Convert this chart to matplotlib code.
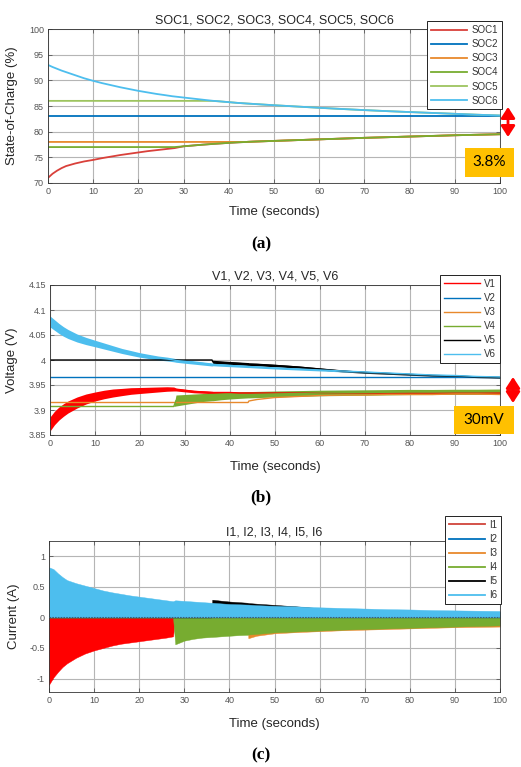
import matplotlib
matplotlib.use('Agg')
import matplotlib.pyplot as plt
import numpy as np
from matplotlib.patches import Rectangle, FancyArrowPatch
from matplotlib.lines import Line2D

plt.rcParams['font.family'] = ['Liberation Sans', 'DejaVu Sans']

# ---------------- data ----------------
time_s = [0, 1, 2, 3, 4, 6, 8, 10, 12, 14, 16, 18, 20, 22, 24, 26, 27.5, 28, 30, 32,
          34, 36, 36.2, 38, 40, 42, 44, 44.2, 46, 50, 55, 60, 65, 70, 75, 80, 85, 90, 95, 100]

# State of charge (%)
soc1 = [71.0, 71.8, 72.4, 72.9, 73.3, 73.8, 74.2, 74.5, 74.85, 75.15, 75.45, 75.7, 75.95, 76.2,
        76.4, 76.6, 76.75, 76.8, 77.15, 77.3, 77.45, 77.58, 77.6, 77.7, 77.82, 77.92, 78.0, 78.02,
        78.08, 78.2, 78.35, 78.5, 78.65, 78.8, 78.92, 79.05, 79.17, 79.3, 79.4, 79.5]
soc2 = [83.0] * 40
soc3 = [78.0] * 27 + [78.02, 78.08, 78.2, 78.35, 78.5, 78.65, 78.8, 78.92, 79.05, 79.17, 79.3,
                      79.4, 79.5]
soc4 = [77.0] * 18 + [77.15, 77.3, 77.45, 77.58, 77.6, 77.7, 77.82, 77.92, 78.0, 78.02, 78.08,
                      78.2, 78.35, 78.5, 78.65, 78.8, 78.92, 79.05, 79.17, 79.3, 79.4, 79.5]
soc6 = [93.0, 92.6, 92.25, 91.9, 91.6, 91.0, 90.4, 89.9, 89.45, 89.05, 88.65, 88.3, 87.95, 87.65,
        87.35, 87.1, 86.9, 86.85, 86.65, 86.45, 86.25, 86.05, 86.03, 85.9, 85.75, 85.6, 85.48,
        85.47, 85.37, 85.15, 84.9, 84.65, 84.42, 84.2, 84.0, 83.82, 83.65, 83.48, 83.3, 83.15]
soc5 = [86.0] * 23 + soc6[23:]

# Voltage (V): centre and half-width of the oscillation band
v1 = [3.872, 3.884, 3.893, 3.900, 3.906, 3.915, 3.922, 3.927, 3.931, 3.934, 3.936, 3.938, 3.939,
      3.940, 3.941, 3.942, 3.942, 3.941, 3.939, 3.937, 3.936, 3.935, 3.935, 3.935, 3.935, 3.934,
      3.934, 3.934, 3.934, 3.934, 3.934, 3.934, 3.934, 3.934, 3.934, 3.934, 3.934, 3.934, 3.934, 3.934]
v1_hw = [0.014, 0.0135, 0.013, 0.0125, 0.012, 0.011, 0.010, 0.009, 0.0085, 0.008, 0.0072, 0.0066,
         0.006, 0.0055, 0.005, 0.0045, 0.004, 0.003, 0.0028, 0.0026, 0.0025, 0.0024] + [0.002] * 18
v2 = [3.966] * 40
v3 = [3.915] * 27 + [3.918, 3.921, 3.925, 3.927, 3.929, 3.930, 3.930, 3.931, 3.931, 3.931, 3.932,
                     3.932, 3.931]
v4 = [3.907] * 17 + [3.919, 3.921, 3.923, 3.925, 3.926, 3.926, 3.9275, 3.9287, 3.9297, 3.9305,
                     3.9305, 3.931, 3.932, 3.933, 3.934, 3.9345, 3.935, 3.9355, 3.936, 3.936,
                     3.9365, 3.9365, 3.937]
v4_hw = [0.0] * 17 + [0.011, 0.010, 0.009, 0.008, 0.0075, 0.0075, 0.007, 0.0067, 0.0065, 0.0063,
                      0.0063, 0.0062, 0.006, 0.0058, 0.0056, 0.0055, 0.0054, 0.0053, 0.0052,
                      0.0051, 0.005, 0.005, 0.005]
v5 = [4.0] * 22 + [3.996, 3.995, 3.994, 3.993, 3.992, 3.9915, 3.991, 3.989, 3.986, 3.982, 3.978,
                   3.975, 3.973, 3.971, 3.969, 3.968, 3.966, 3.965]
v5_hw = [0.0] * 22 + [0.0035, 0.0033, 0.0031, 0.003, 0.0029, 0.0028, 0.0027, 0.0025, 0.0023,
                      0.0021, 0.0018, 0.0016, 0.0015, 0.0015, 0.0014, 0.0014, 0.0013, 0.0013]
v6 = [4.077, 4.070, 4.063, 4.057, 4.052, 4.044, 4.038, 4.033, 4.028, 4.023, 4.018, 4.014, 4.010,
      4.007, 4.004, 4.002, 4.000, 3.999, 3.997, 3.995, 3.993, 3.991, 3.991, 3.990, 3.989, 3.988,
      3.987, 3.987, 3.986, 3.984, 3.982, 3.980, 3.978, 3.976, 3.974, 3.972, 3.970, 3.969, 3.967, 3.966]
v6_hw = [0.011, 0.0105, 0.010, 0.0095, 0.009, 0.008, 0.0072, 0.0065, 0.006, 0.0055, 0.005, 0.0048,
         0.0045, 0.0042, 0.004, 0.0038, 0.0036, 0.0035, 0.0035, 0.0033, 0.0032, 0.003, 0.0025,
         0.0025, 0.0024, 0.0023, 0.0022, 0.0022, 0.0021, 0.002, 0.002, 0.0019, 0.0018, 0.0018,
         0.0017, 0.0017, 0.0016, 0.0016, 0.0015, 0.0015]

# Current (A): envelope of the oscillating current
i1 = [-1.10, -0.98, -0.89, -0.81, -0.75, -0.66, -0.59, -0.54, -0.50, -0.46, -0.43, -0.41, -0.39,
      -0.37, -0.35, -0.33, -0.31] + [0.0] * 23
i2 = [0.0] * 40
i3 = [0.0] * 27 + [-0.34, -0.30, -0.26, -0.24, -0.225, -0.21, -0.20, -0.19, -0.18, -0.17, -0.16,
                   -0.155, -0.15]
i4 = [0.0] * 17 + [-0.44, -0.38, -0.35, -0.33, -0.32, -0.32, -0.31, -0.30, -0.29, -0.285, -0.28,
                   -0.27, -0.245, -0.23, -0.215, -0.20, -0.19, -0.18, -0.17, -0.16, -0.15, -0.14,
                   -0.13]
i5 = [0.0] * 22 + [0.29, 0.275, 0.26, 0.25, 0.24, 0.235, 0.225, 0.205, 0.18, 0.15, 0.14, 0.13,
                   0.12, 0.11, 0.10, 0.10, 0.09, 0.09]
i6 = [0.82, 0.79, 0.72, 0.66, 0.61, 0.56, 0.52, 0.48, 0.44, 0.41, 0.385, 0.36, 0.34, 0.32, 0.30,
      0.28, 0.265, 0.28, 0.27, 0.26, 0.25, 0.24, 0.24, 0.23, 0.22, 0.215, 0.21, 0.21, 0.20, 0.19,
      0.18, 0.165, 0.155, 0.145, 0.135, 0.13, 0.12, 0.115, 0.11, 0.105]

x_ticks = [0, 10, 20, 30, 40, 50, 60, 70, 80, 90, 100]
soc_ticks = [70, 75, 80, 85, 90, 95, 100]
v_ticks = [3.85, 3.9, 3.95, 4.0, 4.05, 4.1, 4.15]
v_ticklabels = ['3.85', '3.9', '3.95', '4', '4.05', '4.1', '4.15']
i_ticks = [-1, -0.5, 0, 0.5, 1]
i_ticklabels = ['-1', '-0.5', '0', '0.5', '1']

soc_labels = ['SOC1', 'SOC2', 'SOC3', 'SOC4', 'SOC5', 'SOC6']
v_labels = ['V1', 'V2', 'V3', 'V4', 'V5', 'V6']
i_labels = ['I1', 'I2', 'I3', 'I4', 'I5', 'I6']

# ---------------- styling ----------------
RED = '#FF0000'
SOC_RED = '#D9403A'
LEG_RED = '#D0443A'
BLUE = '#0072BD'
ORANGE = '#E8892C'
GREEN = '#77AC30'
LGREEN = '#9DC45F'
LBLUE = '#4DBEEE'
BLACK = '#000000'
TICK_C = '#555555'
GRID_C = '#b5b5b5'

t = np.array(time_s)

fig = plt.figure(figsize=(5.21, 7.67), dpi=100)


def style_axes(ax, yticks, yticklabels, ylim, ylabel, ylab_x, xlab_y, title):
    ax.set_xlim(0, 100)
    ax.set_ylim(*ylim)
    ax.set_xticks(x_ticks)
    ax.set_yticks(yticks)
    ax.set_yticklabels(yticklabels)
    ax.tick_params(direction='in', length=3, width=0.5, colors='#444444', labelsize=6.5,
                   labelcolor=TICK_C, top=True, right=True, pad=3)
    ax.grid(True, color=GRID_C, lw=0.8)
    ax.set_axisbelow(True)
    for s in ax.spines.values():
        s.set_color('#333333')
        s.set_linewidth(0.6)
    ax.set_xlabel('Time (seconds)', fontsize=9.5, color='#262626')
    ax.xaxis.set_label_coords(0.5, xlab_y)
    ax.set_ylabel(ylabel, fontsize=9.5, color='#262626')
    ax.yaxis.set_label_coords(ylab_x, 0.5)
    ax.set_title(title, fontsize=9, color='#262626', pad=4)


def add_legend(ax, handles, labels, anchor, fs=7.0):
    leg = ax.legend(handles, labels, loc='upper right', bbox_to_anchor=anchor, fontsize=fs,
                    frameon=True, fancybox=False, framealpha=1, edgecolor='#222222',
                    handlelength=3.7, handletextpad=0.45, labelspacing=0.42,
                    borderpad=0.4, borderaxespad=0.0)
    leg.get_frame().set_linewidth(0.7)
    for txt in leg.get_texts():
        txt.set_color('#333333')
    leg.set_zorder(20)
    return leg


# ---------------- (a) SOC ----------------
ax1 = fig.add_axes([48 / 521, 1 - 183 / 767, 452 / 521, 154 / 767])
h = []
for vals, col in [(soc1, SOC_RED), (soc2, BLUE), (soc3, ORANGE),
                  (soc4, GREEN), (soc5, LGREEN), (soc6, LBLUE)]:
    ln, = ax1.plot(t, vals, color=col, lw=1.3)
    h.append(ln)
style_axes(ax1, soc_ticks, [str(v) for v in soc_ticks], (70, 100), 'State-of-Charge (%)',
           -0.066, -0.15, 'SOC1, SOC2, SOC3, SOC4, SOC5, SOC6')
add_legend(ax1, h, soc_labels, (1.004, 1.05))

# ---------------- (b) Voltage ----------------
ax2 = fig.add_axes([50 / 521, 1 - 435 / 767, 450 / 521, 150 / 767])
h = []
band_specs = [(v1, v1_hw, RED), (v2, None, BLUE), (v3, None, ORANGE),
              (v4, v4_hw, GREEN), (v5, v5_hw, BLACK), (v6, v6_hw, LBLUE)]
for vals, hw, col in band_specs:
    c = np.array(vals)
    if hw is not None:
        w = np.array(hw)
        ax2.fill_between(t, c - w, c + w, color=col, lw=0)
    ln, = ax2.plot(t, c, color=col, lw=1.0)
    h.append(ln)
style_axes(ax2, v_ticks, v_ticklabels, (3.85, 4.15), 'Voltage (V)', -0.071, -0.175,
           'V1, V2, V3, V4, V5, V6')
add_legend(ax2, h, v_labels, (1.0, 1.067))

# ---------------- (c) Current ----------------
ax3 = fig.add_axes([49 / 521, 1 - 692 / 767, 451 / 521, 151 / 767])
curr_specs = [(i1, RED, LEG_RED), (i2, BLUE, BLUE), (i3, ORANGE, ORANGE),
              (i4, GREEN, GREEN), (i5, BLACK, BLACK), (i6, LBLUE, LBLUE)]
h = []
for vals, col, lcol in curr_specs:
    c = np.array(vals)
    ax3.fill_between(t, 0, c, color=col, lw=0.3, edgecolor=col)
    h.append(Line2D([], [], color=lcol, lw=1.3))
ax3.plot(t, i2, color='#3b5f7a', lw=0.8, ls=(0, (1.5, 1.0)), zorder=5)
style_axes(ax3, i_ticks, i_ticklabels, (-1.22, 1.25), 'Current (A)', -0.064, -0.175,
           'I1, I2, I3, I4, I5, I6')
add_legend(ax3, h, i_labels, (1.003, 1.166))

# ---------------- panel captions ----------------
for lab, y in [('(a)', 244), ('(b)', 497), ('(c)', 755)]:
    fig.text(261 / 521, 1 - y / 767, lab, fontsize=12.5, fontweight='bold',
             family=['Liberation Serif', 'DejaVu Serif'], ha='center', va='center')

# ---------------- annotations (arrows + boxes) ----------------
for x, y0, y1 in [(508, 107, 137), (513, 377, 403)]:
    fig.add_artist(FancyArrowPatch(
        (x / 521, 1 - y1 / 767), (x / 521, 1 - y0 / 767), transform=fig.transFigure,
        arrowstyle='<|-|>,head_length=0.65,head_width=0.42', mutation_scale=10,
        shrinkA=0, shrinkB=0, color='red', lw=2.0, zorder=30))

for (x0, y0, x1, y1, txt) in [(465, 148, 514, 177, '3.8%'), (454, 406, 514, 434, '30mV')]:
    fig.add_artist(Rectangle((x0 / 521, 1 - y1 / 767), (x1 - x0) / 521, (y1 - y0) / 767,
                             transform=fig.transFigure, facecolor='#FFC000', edgecolor='none',
                             zorder=30))
    fig.text((x0 + x1) / 2 / 521, 1 - (y0 + y1) / 2 / 767, txt, fontsize=11,
             family=['Lato', 'DejaVu Sans'], ha='center', va='center', color='black', zorder=31)

fig.savefig('out.png', dpi=100)
